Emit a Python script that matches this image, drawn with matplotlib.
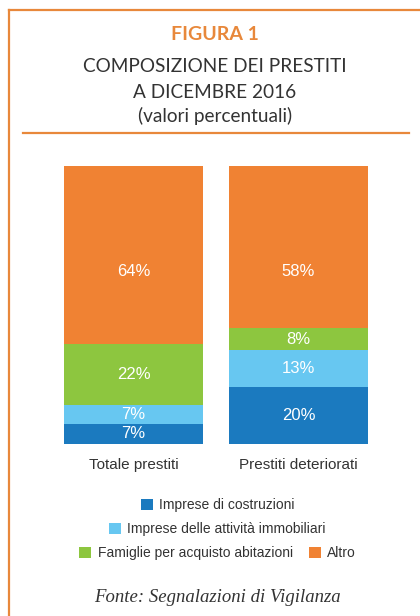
import matplotlib.pyplot as plt
from matplotlib.lines import Line2D

# DATA
categories = ['Totale prestiti', 'Prestiti deteriorati']
series_names = ['Imprese di costruzioni', 'Imprese delle attività immobiliari',
                'Famiglie per acquisto abitazioni', 'Altro']
costruzioni = [7.0, 20.4]
immobiliari = [7.0, 13.2]
famiglie = [22.0, 8.0]
altro = [64.0, 58.4]
colors = ['#1b7abf', '#67c7f1', '#8dc63f', '#f08233']

ORANGE = '#e8883b'
TEXT = '#333333'

W, H = 420, 616
fig = plt.figure(figsize=(W / 100, H / 100), dpi=100)

def fx(px):
    return px / W

def fy(py):
    return 1 - py / H

# frame (top and left only) and separator line
fig.add_artist(Line2D([fx(9), 1], [fy(9.5), fy(9.5)], color=ORANGE, lw=1.6))
fig.add_artist(Line2D([fx(9), fx(9)], [fy(9.5), 0], color=ORANGE, lw=1.6))
fig.add_artist(Line2D([fx(23), fx(409)], [fy(133), fy(133)], color=ORANGE, lw=1.6))

# titles
tx = fx(215)
fig.text(tx, fy(35), 'FIGURA 1', ha='center', va='center', color=ORANGE,
         fontsize=14, fontweight='bold', family='Lato')
fig.text(tx, fy(66), 'COMPOSIZIONE DEI PRESTITI', ha='center', va='center',
         color=TEXT, fontsize=13.7, family='Lato')
fig.text(tx, fy(92), 'A DICEMBRE 2016', ha='center', va='center',
         color=TEXT, fontsize=13.7, family='Lato')
fig.text(tx, fy(116), '(valori percentuali)', ha='center', va='center',
         color=TEXT, fontsize=13.7, family='Lato')

# bars
bar_w = 139 / 165
left, right, top, bottom = 64, 368, 166, 443.7
ax = fig.add_axes([fx(left), fy(bottom), fx(right - left), (bottom - top) / H])

x = [0, 1]
series = [costruzioni, immobiliari, famiglie, altro]
base = [0.0, 0.0]
handles = []
for k, (name, vals, c) in enumerate(zip(series_names, series, colors)):
    bars = ax.bar(x, vals, bar_w, bottom=base, color=c, label=name, linewidth=0)
    handles.append(bars)
    for xi, v, b in zip(x, vals, base):
        # the "Altro" labels sit at a common height in the original
        ly = 62 if k == len(series) - 1 else b + v / 2
        ax.text(xi, ly, '%d%%' % round(v), ha='center', va='center',
                color='white', fontsize=12, family='Liberation Sans')
    base = [b + v for b, v in zip(base, vals)]

ax.set_xlim(-bar_w / 2, 1 + bar_w / 2)
ax.set_ylim(0, 100)
ax.set_xticks(x)
ax.set_xticklabels(categories, fontsize=11, color=TEXT, family='Liberation Sans')
ax.tick_params(axis='x', length=0, pad=10.5)
ax.set_yticks([])
for s in ax.spines.values():
    s.set_visible(False)

# legend, three centred rows
rows = [([0], 505), ([1], 529), ([2, 3], 553)]
for idx, py in rows:
    leg = fig.legend([handles[i] for i in idx], [series_names[i] for i in idx],
                     loc='center', bbox_to_anchor=(fx(217.5), fy(py)),
                     ncol=len(idx), frameon=False, borderpad=0,
                     handlelength=0.86, handleheight=0.86, handletextpad=0.45,
                     columnspacing=1.15,
                     prop={'family': 'Liberation Sans', 'size': 10})
    for t in leg.get_texts():
        t.set_color(TEXT)

fig.text(fx(217), fy(598), 'Fonte: Segnalazioni di Vigilanza', ha='center',
         va='center', color=TEXT, fontsize=13.5, style='italic',
         family='Liberation Serif')

fig.savefig('out.png', dpi=100)
